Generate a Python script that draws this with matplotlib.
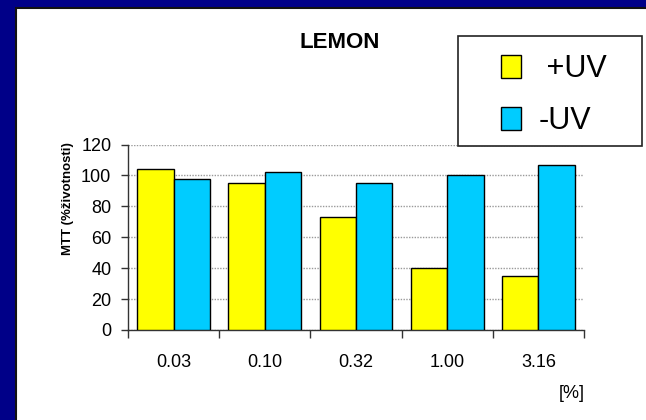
import matplotlib
matplotlib.use("Agg")
import matplotlib.pyplot as plt
from matplotlib.patches import Rectangle, Patch
import numpy as np

plt.rcParams['font.family'] = ['Liberation Sans', 'DejaVu Sans']

categories = ["0.03", "0.10", "0.32", "1.00", "3.16"]
plus_uv = [104, 95, 73, 40, 35]
minus_uv = [98, 102, 95, 100.5, 107]
series_labels = [" +UV", "-UV"]
yticks = [0, 20, 40, 60, 80, 100, 120]

W, H = 646, 420
fig = plt.figure(figsize=(W / 100, H / 100), dpi=100)
fig.patch.set_facecolor('#000088')

# white slide panel with a dark rim along its top and left edges
fig.patches.append(Rectangle((16 / W, -0.05), 1.1, 1.05 - 8.5 / H,
                             transform=fig.transFigure, facecolor='white',
                             edgecolor='#111111', linewidth=1.5, zorder=-10))

ax = fig.add_axes([128 / W, 1 - 330 / H, 456 / W, 185.5 / H])
ax.set_zorder(1)
ax.set_facecolor('none')

x = np.arange(len(categories))
bw = 0.4
ax.bar(x - bw / 2, plus_uv, bw, color='#FFFF00', edgecolor='black', linewidth=1.0,
       label=series_labels[0], zorder=3)
ax.bar(x + bw / 2, minus_uv, bw, color='#00CCFF', edgecolor='black', linewidth=1.0,
       label=series_labels[1], zorder=3)

ax.set_xlim(-0.5, len(categories) - 0.5)
ax.set_ylim(0, 120)
ax.set_yticks(yticks)
ax.tick_params(axis='y', labelsize=13, length=5, width=1, pad=7, direction='out',
               color='#333333')
ax.set_xticks(x)
ax.set_xticklabels(categories)
ax.set_xticks(np.arange(-0.5, len(categories)), minor=True)
ax.tick_params(axis='x', which='major', length=0, labelsize=13, pad=17)
ax.tick_params(axis='x', which='minor', length=6, width=1, direction='out',
               color='#333333')

ax.yaxis.grid(True, color='#9a9a9a', linewidth=1.0, linestyle=(0, (1, 1)), zorder=1)
for s in ('top', 'right'):
    ax.spines[s].set_visible(False)
for s in ('left', 'bottom'):
    ax.spines[s].set_color('#333333')
    ax.spines[s].set_linewidth(1.0)

fig.text(340 / W, 1 - 42 / H, "LEMON", ha='center', va='center',
         fontsize=16, fontweight='bold')
fig.text(68 / W, 1 - 198.5 / H, "MTT (%životnosti)", rotation=90, ha='center',
         va='center', fontsize=9.5, fontweight='bold')
fig.text(572 / W, 1 - 394 / H, "[%]", ha='center', va='center', fontsize=13)

# legend box
fig.patches.append(Rectangle((458 / W, 1 - 146 / H), 184 / W, 110 / H,
                             transform=fig.transFigure, facecolor='white',
                             edgecolor='#222222', linewidth=1.2, zorder=5))
handles = [Patch(facecolor='#FFFF00', edgecolor='black', linewidth=1.0),
           Patch(facecolor='#00CCFF', edgecolor='black', linewidth=1.0)]
leg = fig.legend(handles, series_labels, loc='upper left',
                 bbox_to_anchor=(501 / W, 1 - 54 / H), bbox_transform=fig.transFigure,
                 frameon=False, fontsize=22, borderpad=0, borderaxespad=0,
                 handlelength=0.66, handleheight=0.75, handletextpad=0.56,
                 labelspacing=0.72)
leg.set_zorder(6)

fig.savefig("out.png", dpi=100, facecolor=fig.get_facecolor())
